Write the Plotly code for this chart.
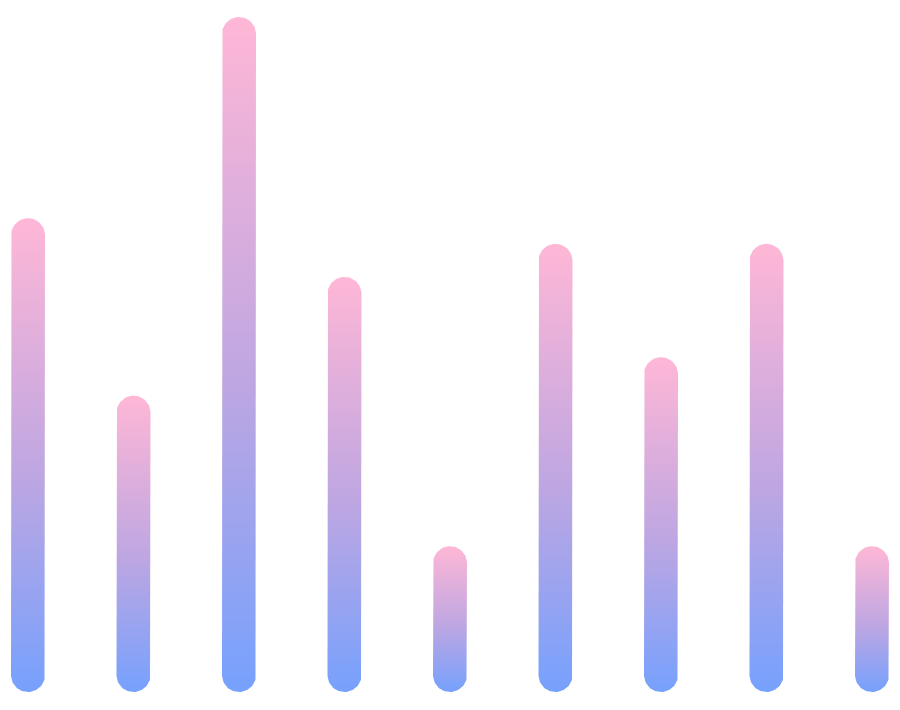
import numpy as np
import plotly.graph_objs as go

# bar heights (tallest = 100)
categories = list(range(9))
values = [70.2, 43.9, 100, 61.5, 21.6, 66.4, 49.6, 66.4, 21.6]

PINK = '#ffb7d6'
LAVENDER = '#bda6e2'
BLUE = '#76a1fd'

# page body keeps an 8px margin, so the figure is a bit smaller than the window
W, H = 892, 702
px_per_x = 105.5          # pixels between bar centres
px_per_y = 6.75           # pixels per value unit
x_left = 20 / px_per_x
y_bottom = 18 / px_per_y

half_w = 17 / px_per_x    # bar half width in x units
ry = 17 / px_per_y        # cap radius in y units


def pill(cx, v):
    # rounded bar outline in data coordinates
    t_top = np.linspace(np.pi, 0, 40)
    t_bot = np.linspace(0, -np.pi, 40)
    xs = np.concatenate([
        [cx - half_w, cx - half_w],
        cx + half_w * np.cos(t_top),
        [cx + half_w, cx + half_w],
        cx + half_w * np.cos(t_bot),
    ])
    ys = np.concatenate([
        [ry, v - ry],
        (v - ry) + ry * np.sin(t_top),
        [v - ry, ry],
        ry + ry * np.sin(t_bot),
    ])
    return xs, ys


fig = go.Figure()

for c, v in zip(categories, values):
    xs, ys = pill(c, v)
    fig.add_trace(go.Scatter(
        x=xs,
        y=ys,
        mode='lines',
        fill='toself',
        line=dict(width=0, color=PINK),
        fillgradient=dict(
            type='vertical',
            colorscale=[[0, BLUE], [0.45, LAVENDER], [1, PINK]],
        ),
        hoverinfo='skip',
        showlegend=False,
    ))

fig.update_layout(
    width=W,
    height=H,
    margin=dict(l=0, r=0, t=0, b=0),
    paper_bgcolor='white',
    plot_bgcolor='white',
    xaxis=dict(visible=False, range=[-x_left, (W - 20) / px_per_x], fixedrange=True),
    yaxis=dict(visible=False, range=[-y_bottom, (H - 18) / px_per_y], fixedrange=True),
)

fig.write_html("out.html")
